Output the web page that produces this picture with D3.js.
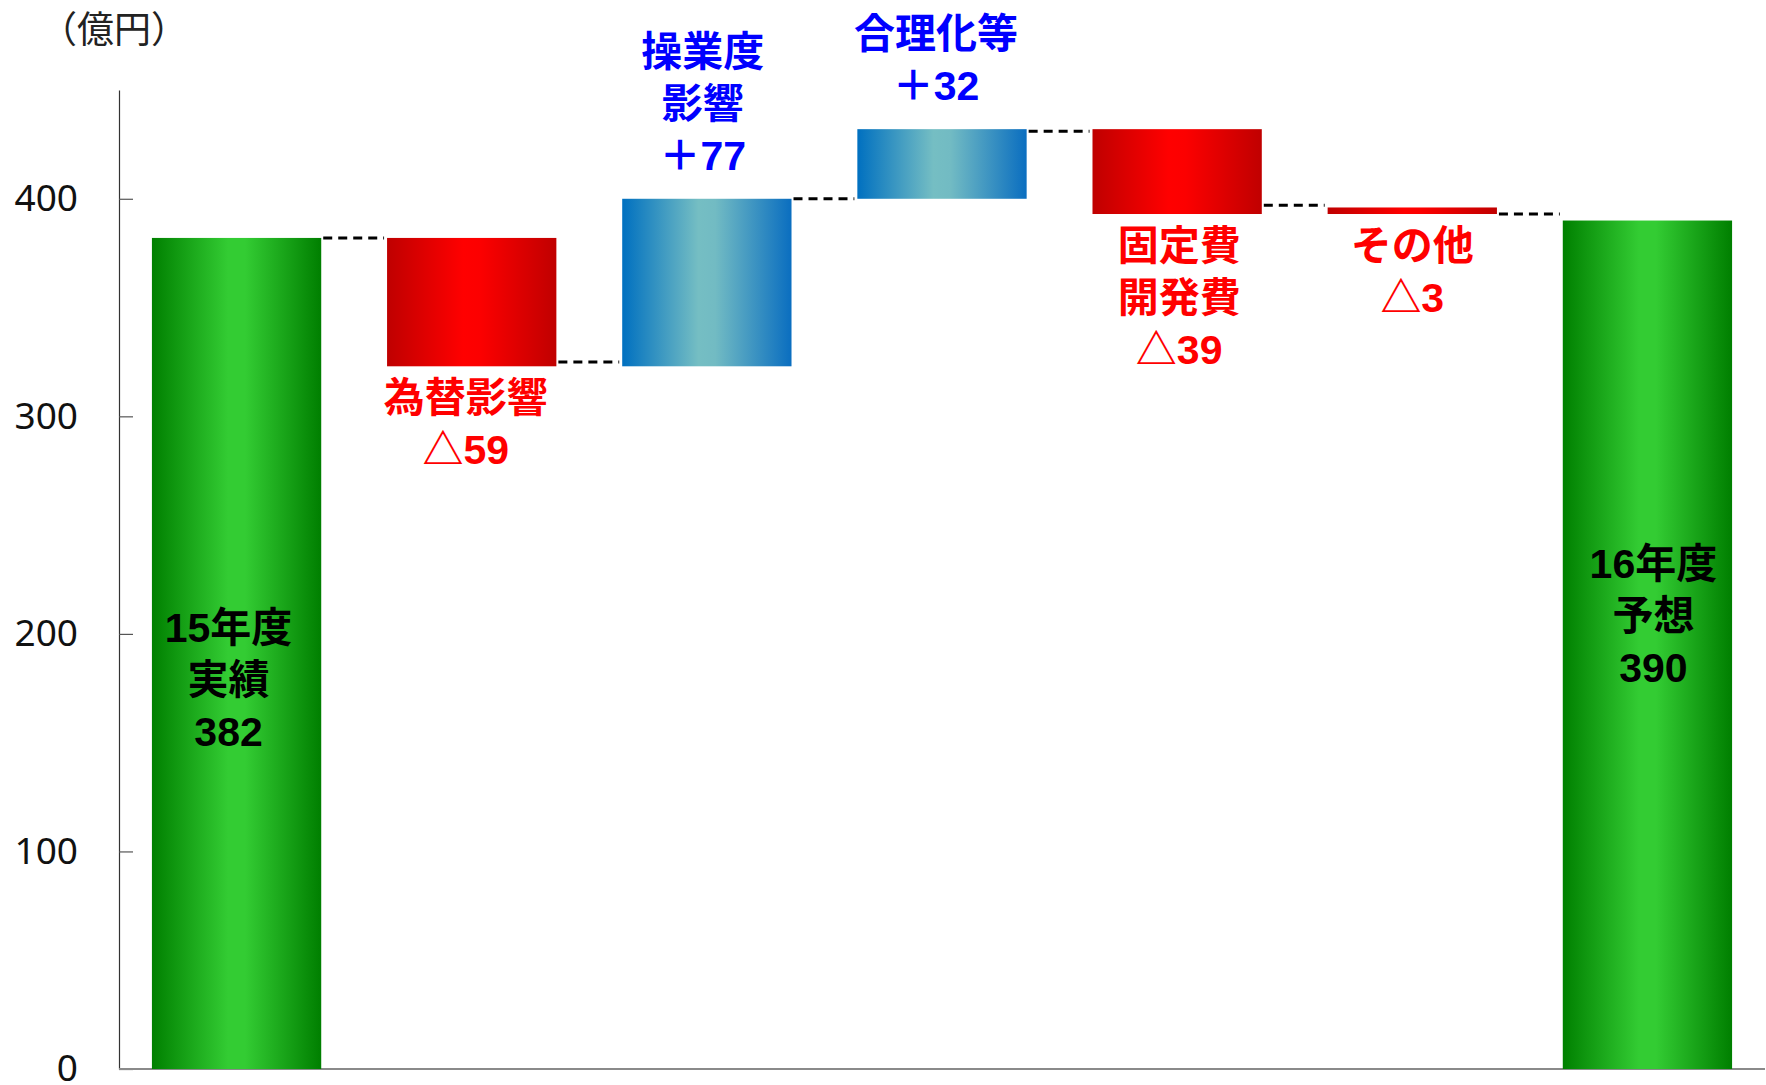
<!DOCTYPE html>
<html>
<head>
<meta charset="utf-8">
<script src="https://cdn.jsdelivr.net/npm/d3@7"></script>
<style>
  html, body { margin: 0; padding: 0; background: #fff; }
  svg { display: block; }
</style>
</head>
<body>
<svg id="chart" width="1766" height="1085"></svg>
<script>
// ---- data ----
const categories = ["15年度実績", "為替影響", "操業度影響", "合理化等", "固定費開発費", "その他", "16年度予想"];
const barStart   = [0, 382, 323, 400, 432, 396, 0];
const barEnd     = [382, 323, 400, 432, 393, 393, 390];
const barKind    = ["total", "down", "up", "up", "down", "down", "total"];
const connectorLevels = [382, 325, 400, 431, 397, 393];
const labelLines = [
  ["15年度", "実績", "382"],
  ["為替影響", "△59"],
  ["操業度", "影響", "＋77"],
  ["合理化等", "＋32"],
  ["固定費", "開発費", "△39"],
  ["その他", "△3"],
  ["16年度", "予想", "390"]
];
const yTicks = [0, 100, 200, 300, 400];
const yMax = 450;
const unitLabel = "（億円）";

// ---- layout / style ----
const M = { left: 119, right: 1765, top: 90, bottom: 1069 };
const kindColor = { total: "#000000", down: "#ff0000", up: "#0000ff" };
const kindGrad = { total: "gGreen", down: "gRed", up: "gBlue" };
const lineGap = 52;
const totalFirstLineOffset = { 0: 390, 6: 343 };
const labelDx = [-8, -6, -4, -6, 2, 0, 6];

const svg = d3.select("#chart");

const defs = svg.append("defs");
function grad(id, stops) {
  const g = defs.append("linearGradient").attr("id", id)
    .attr("x1", 0).attr("x2", 1).attr("y1", 0).attr("y2", 0);
  stops.forEach(([o, c]) => g.append("stop").attr("offset", o).attr("stop-color", c));
}
grad("gGreen", [[0, "#008000"], [0.45, "#33cc33"], [0.55, "#33cc33"], [1, "#007f00"]]);
grad("gRed",   [[0, "#bf0000"], [0.45, "#ff0000"], [0.55, "#fc0000"], [1, "#c00000"]]);
grad("gBlue",  [[0, "#0070c0"], [0.45, "#75bec3"], [0.55, "#72bbc3"], [1, "#0a6ec0"]]);

const x = d3.scaleBand().domain(categories).range([M.left, M.right])
  .paddingInner(0.28).paddingOuter(0.14);
const y = d3.scaleLinear().domain([0, yMax]).range([M.bottom, M.top]);

// y axis
const yAxis = d3.axisLeft(y).tickValues(yTicks).tickSizeInner(-14).tickSizeOuter(0).tickPadding(41);
const gy = svg.append("g").attr("transform", `translate(${M.left},0)`).call(yAxis);
gy.select(".domain").attr("stroke", "#333").attr("stroke-width", 1.2);
gy.selectAll(".tick line").attr("stroke", "#555").attr("stroke-width", 1.2);
gy.selectAll(".tick text")
  .attr("font-family", "'Noto Sans', 'DejaVu Sans', sans-serif")
  .attr("font-size", 37).attr("fill", "#111");

// x baseline
svg.append("line").attr("x1", M.left).attr("x2", M.right)
  .attr("y1", y(0)).attr("y2", y(0))
  .attr("stroke", "#8a8a8a").attr("stroke-width", 2);

// unit label
svg.append("text").attr("x", 40).attr("y", 27)
  .attr("dominant-baseline", "central")
  .attr("font-family", "'Noto Sans CJK JP', sans-serif")
  .attr("font-size", 37).attr("fill", "#222")
  .text(unitLabel);

// bars
svg.append("g").selectAll("rect").data(categories).join("rect")
  .attr("x", d => x(d))
  .attr("width", x.bandwidth())
  .attr("y", (d, i) => y(Math.max(barStart[i], barEnd[i])))
  .attr("height", (d, i) => Math.abs(y(barStart[i]) - y(barEnd[i])))
  .attr("fill", (d, i) => `url(#${kindGrad[barKind[i]]})`);

// connectors
svg.append("g").selectAll("line").data(connectorLevels).join("line")
  .attr("x1", (d, i) => x(categories[i]) + x.bandwidth() + 2)
  .attr("x2", (d, i) => x(categories[i + 1]) - 3)
  .attr("y1", d => y(d)).attr("y2", d => y(d))
  .attr("stroke", "#000").attr("stroke-width", 3)
  .attr("stroke-dasharray", "9,6");

// labels
const lg = svg.append("g")
  .attr("font-family", "'Liberation Sans', 'Noto Sans CJK JP', sans-serif")
  .attr("font-weight", "bold").attr("font-size", 41)
  .attr("text-anchor", "middle");
categories.forEach((c, i) => {
  const kind = barKind[i];
  const lines = labelLines[i];
  const cx = x(c) + x.bandwidth() / 2 + labelDx[i];
  let firstY;
  if (kind === "total") {
    firstY = y(barEnd[i]) + totalFirstLineOffset[i];
  } else if (kind === "down") {
    firstY = y(Math.min(barStart[i], barEnd[i])) + 32;
  } else {
    firstY = y(Math.max(barStart[i], barEnd[i])) - 43 - (lines.length - 1) * lineGap;
  }
  lines.forEach((t, j) => {
    lg.append("text").attr("x", cx).attr("y", firstY + j * lineGap)
      .attr("dominant-baseline", "central")
      .attr("fill", kindColor[kind])
      .text(t);
  });
});
</script>
</body>
</html>
